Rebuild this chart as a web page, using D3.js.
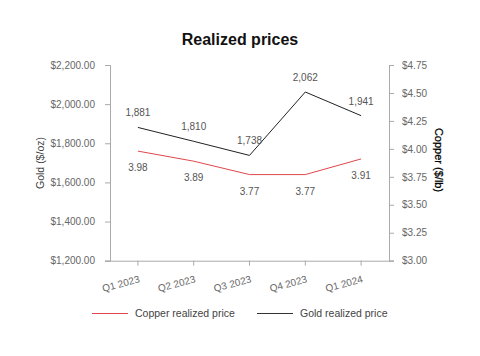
<!DOCTYPE html>
<html><head><meta charset="utf-8">
<script src="https://cdn.jsdelivr.net/npm/d3@7"></script>
<style>body{margin:0;background:#fff}svg{display:block}text{font-family:"Liberation Sans",Arial,sans-serif}</style>
</head><body><svg id="c" width="480" height="356"></svg>
<script>
const quarters = ["Q1 2023","Q2 2023","Q3 2023","Q4 2023","Q1 2024"];
const gold = [1881,1810,1738,2062,1941];
const copper = [3.98,3.89,3.77,3.77,3.91];
const goldTicks = [1200,1400,1600,1800,2000,2200];
const copperTicks = [3.00,3.25,3.50,3.75,4.00,4.25,4.50,4.75];

const svg = d3.select("#c");
const L=110,R=389,T=65,B=260.7;
const x = d3.scaleBand().domain(quarters).range([L,R]);
const xc = d => x(d)+x.bandwidth()/2;
const yG = d3.scaleLinear().domain([1200,2200]).range([B,T]);
const yC = d3.scaleLinear().domain([3,4.75]).range([B,T]);

svg.append("text").attr("x",240).attr("y",45).attr("text-anchor","middle")
  .attr("font-size",16).attr("font-weight","bold").attr("fill","#111").text("Realized prices");

const axisStyle = g => {
  g.selectAll("path,line").attr("stroke","#aaa");
  g.selectAll("text").attr("fill","#666").attr("font-size",10).attr("font-family","Liberation Sans, Arial, sans-serif");
};
svg.append("g").attr("transform",`translate(${L},0)`)
  .call(d3.axisLeft(yG).tickValues(goldTicks).tickSize(5).tickSizeOuter(5).tickPadding(10).tickFormat(d3.format("$,.2f")))
  .call(axisStyle);
svg.append("g").attr("transform",`translate(${R},0)`)
  .call(d3.axisRight(yC).tickValues(copperTicks).tickSize(5).tickSizeOuter(5).tickPadding(8).tickFormat(d3.format("$.2f")))
  .call(axisStyle);
const xa = svg.append("g").attr("transform",`translate(0,${B})`)
  .call(d3.axisBottom(x).tickSize(5).tickSizeOuter(0))
  .call(axisStyle);
xa.select(".domain").attr("d",`M${L-5},0.5H${R+5}`);
xa.selectAll("text").attr("text-anchor","end").attr("transform","translate(-2,5) rotate(-15)").attr("dy","0.9em");

svg.append("text").attr("transform","translate(44,163) rotate(-90)").attr("text-anchor","middle")
  .attr("font-size",10.5).attr("fill","#444").text("Gold ($/oz)");
svg.append("text").attr("transform","translate(435,160) rotate(90)").attr("text-anchor","middle")
  .attr("font-size",11).attr("fill","#000").attr("stroke","#000").attr("stroke-width",0.25).text("Copper ($/lb)");

const lineG = d3.line().x((d,i)=>xc(quarters[i])).y(d=>yG(d));
const lineC = d3.line().x((d,i)=>xc(quarters[i])).y(d=>yC(d));
svg.append("path").attr("d",lineC(copper)).attr("fill","none").attr("stroke","#e0474c").attr("stroke-width",1);
svg.append("path").attr("d",lineG(gold)).attr("fill","none").attr("stroke","#222").attr("stroke-width",1);

svg.selectAll(".gl").data(gold).enter().append("text")
  .attr("x",(d,i)=>xc(quarters[i])).attr("y",d=>yG(d)-11).attr("text-anchor","middle")
  .attr("font-size",10).attr("fill","#555").text(d3.format(","));
svg.selectAll(".cl").data(copper).enter().append("text")
  .attr("x",(d,i)=>xc(quarters[i])).attr("y",d=>yC(d)+20).attr("text-anchor","middle")
  .attr("font-size",10).attr("fill","#555").text(d3.format(".2f"));

const leg = [{n:"Copper realized price",c:"#e0474c",x:92},{n:"Gold realized price",c:"#333",x:257}];
leg.forEach(l=>{
  svg.append("line").attr("x1",l.x).attr("x2",l.x+36).attr("y1",313.5).attr("y2",313.5).attr("stroke",l.c).attr("stroke-width",1);
  svg.append("text").attr("x",l.x+43).attr("y",317).attr("font-size",10.5).attr("fill","#444").text(l.n);
});
</script></body></html>
